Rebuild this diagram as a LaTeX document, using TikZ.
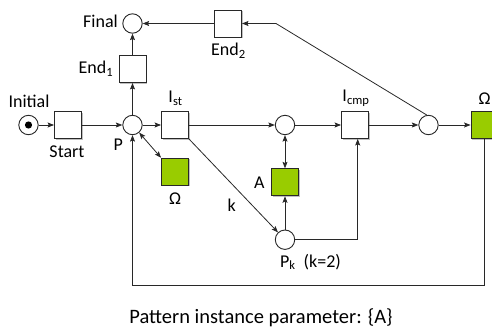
\documentclass[tikz,border=0pt]{standalone}
\usepackage{fontspec}
\setmainfont{Carlito}
\usetikzlibrary{arrows.meta,shadows}
\definecolor{petrigreen}{RGB}{153,204,0}
\definecolor{edgegray}{RGB}{40,40,40}
\tikzset{
  place/.style={circle,draw=edgegray,line width=0.9pt,fill=white,minimum size=19.4pt,inner sep=0pt},
  trans/.style={rectangle,draw=edgegray,line width=0.9pt,fill=white,minimum size=27pt,inner sep=0pt,
    drop shadow={shadow xshift=1.2pt,shadow yshift=-1.2pt,opacity=0.25,fill=black}},
  gtrans/.style={trans,fill=petrigreen},
  lbl/.style={inner sep=0pt,font=\fontsize{18}{20}\selectfont},
  arc/.style={draw=edgegray,line width=0.8pt,-{Stealth[length=6.5pt,width=5pt,inset=1.2pt]}},
  biarc/.style={draw=edgegray,line width=0.8pt,{Stealth[length=6.5pt,width=5pt,inset=1.2pt]}-{Stealth[length=6.5pt,width=5pt,inset=1.2pt]}},
}
\begin{document}
\begin{tikzpicture}[x=1pt,y=-1pt]
\useasboundingbox (0,0) rectangle (492,329);

% places
\node[place] (init)  at (28.5,125) {};
\fill[black] (init.center) circle (3.6pt);
\node[place] (P)     at (132.5,125) {};
\node[place] (final) at (132.5,23.5) {};
\node[place] (pmid)  at (285,125) {};
\node[place] (pend)  at (428.5,125) {};
\node[place] (pk)    at (285,239.7) {};

% transitions
\node[trans]  (start) at (68,125) {};
\node[trans]  (end1)  at (132.5,69) {};
\node[trans]  (end2)  at (228,23.5) {};
\node[trans]  (ist)   at (175,125) {};
\node[trans]  (icmp)  at (355,125) {};
\node[gtrans] (omr)   at (484.5,125) {};
\node[gtrans] (oms)   at (175,171.7) {};
\node[gtrans] (atr)   at (285,182.3) {};

% labels
\node[lbl] (linit)  at (29,101) {Initial};
\node[lbl] (lstart) at (67,151.5) {Start};
\node[lbl] (lP)     at (118.3,145) {P};
\node[lbl] (lfinal) at (100.5,21.5) {Final};
\node[lbl] (lend1)  at (96,68.5) {End\textsubscript{1}};
\node[lbl] (lend2)  at (228.5,50.5) {End\textsubscript{2}};
\node[lbl] (list)   at (175.5,98.5) {I\textsubscript{st}};
\node[lbl] (licmp)  at (356,98.5) {I\textsubscript{cmp}};
\node[lbl] (lomr)   at (484.5,99) {Ω};
\node[lbl] (loms)   at (175,198.5) {Ω};
\node[lbl] (lA)     at (259.3,182.5) {A};
\node[lbl] (lk)     at (231.7,205) {k};
\node[lbl] (lpk)    at (310.5,262) {P\textsubscript{k}\ \ (k=2)};
\node[inner sep=0pt,font=\fontsize{20.5}{24}\selectfont] (param) at (261,318) {Pattern instance parameter: \{A\}};

% helper points for bent arcs
\coordinate (bendE) at (276,23.5);
\coordinate (turnK) at (357.7,239.7);
\coordinate (loopR) at (484.5,285);
\coordinate (loopL) at (132.5,285);

% arcs
\draw[arc] (init) -- (start);
\draw[arc] (start) -- (P);
\draw[arc] (P) -- (ist);
\draw[arc] (ist) -- (pmid);
\draw[arc] (pmid) -- (icmp);
\draw[arc] (icmp) -- (pend);
\draw[arc] (pend) -- (omr);
\draw[arc] (P) -- (end1);
\draw[arc] (end1) -- (final);
\draw[arc] (end2) -- (final);
\draw[arc] (pend.100) -- (bendE) -- (end2);
\draw[biarc] (P) -- (oms.north west);
\draw[biarc] (pmid) -- (atr);
\draw[arc] (pk) -- (atr);
\draw[arc] (ist.south east) -- (pk);
\draw[arc] (pk) -- (turnK) -- (turnK |- icmp.south);
\draw[arc] (omr.south) -- (loopR) -- (loopL) -- (P);
\end{tikzpicture}
\end{document}
